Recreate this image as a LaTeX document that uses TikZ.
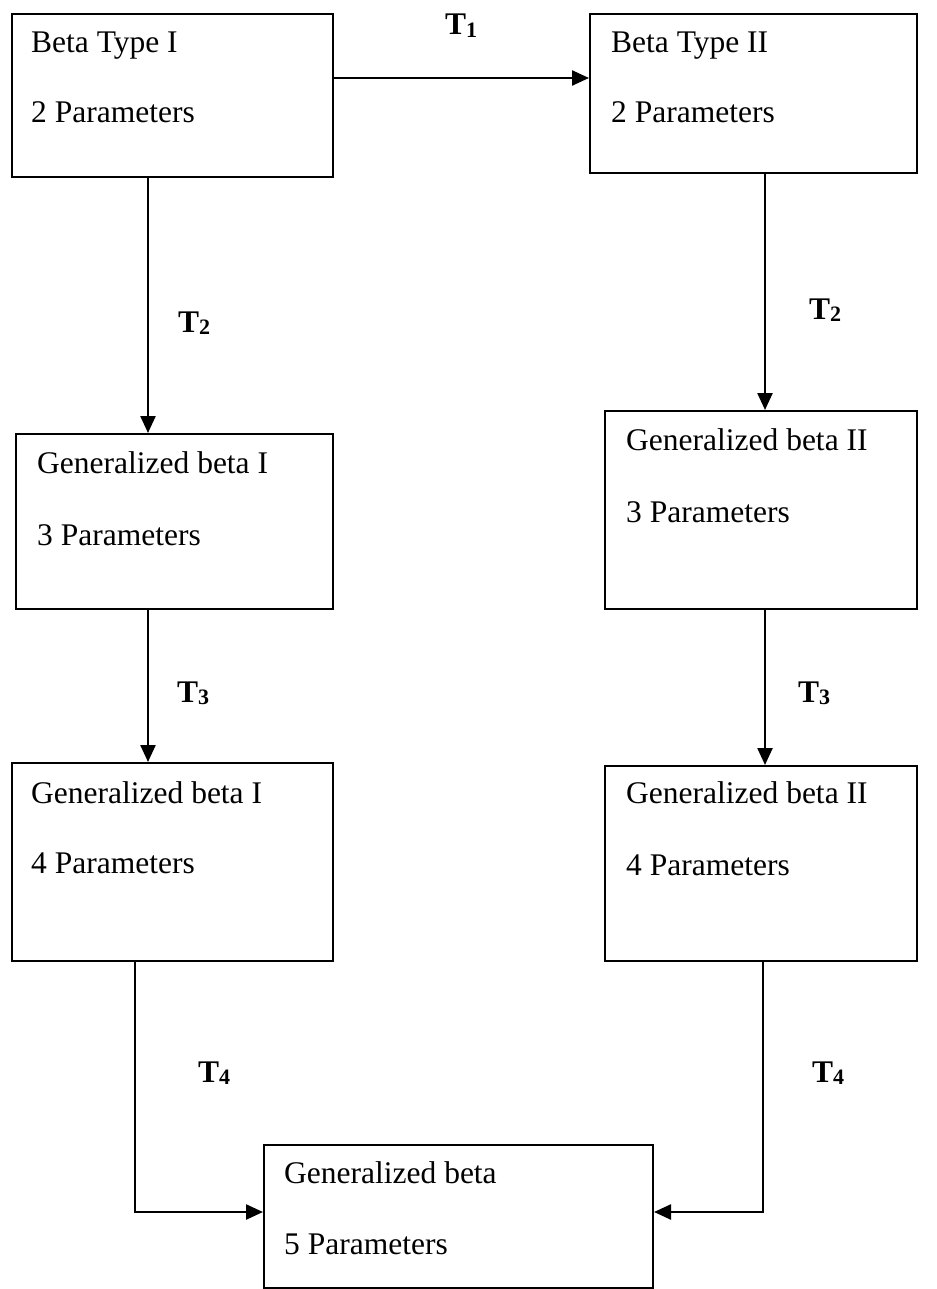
\documentclass[tikz,border=0pt]{standalone}
\usepackage{fontspec}
\setmainfont{Liberation Serif}
\usetikzlibrary{arrows.meta}

\tikzset{
  box/.style={draw, line width=2pt, rectangle, anchor=north west, inner sep=0pt},
  txt/.style={anchor=base west, inner sep=0pt, font=\fontsize{31.5}{36}\selectfont},
  lbl/.style={anchor=base west, inner sep=0pt, font=\fontsize{31.5}{36}\selectfont\bfseries},
  arr/.style={line width=2.4pt, -{Triangle[length=17pt,width=15pt]}},
}
\newcommand{\tlabel}[1]{T\raisebox{-2.5pt}{\fontsize{22}{22}\selectfont\bfseries #1}}

\begin{document}
\begin{tikzpicture}[x=1pt,y=-1pt]
  \useasboundingbox (0,0) rectangle (936,1289);

  % boxes
  \node[box, minimum width=321pt, minimum height=163pt] (b1) at (11,13) {};
  \node[box, minimum width=327pt, minimum height=159pt] (b2) at (589,13) {};
  \node[box, minimum width=317pt, minimum height=175pt] (b3) at (15,433) {};
  \node[box, minimum width=312pt, minimum height=198pt] (b4) at (604,410) {};
  \node[box, minimum width=321pt, minimum height=198pt] (b5) at (11,762) {};
  \node[box, minimum width=312pt, minimum height=195pt] (b6) at (604,765) {};
  \node[box, minimum width=389pt, minimum height=143pt] (b7) at (263,1144) {};

  % box texts
  \node[txt] (b1a) at (31,53) {Beta Type I};
  \node[txt] (b1b) at (31,123) {2 Parameters};
  \node[txt] (b2a) at (611,53) {Beta Type II};
  \node[txt] (b2b) at (611,123) {2 Parameters};
  \node[txt] (b3a) at (37,473) {Generalized beta I};
  \node[txt] (b3b) at (37,545) {3 Parameters};
  \node[txt] (b4a) at (626,450) {Generalized beta II};
  \node[txt] (b4b) at (626,522) {3 Parameters};
  \node[txt] (b5a) at (31,803) {Generalized beta I};
  \node[txt] (b5b) at (31,873) {4 Parameters};
  \node[txt] (b6a) at (626,803) {Generalized beta II};
  \node[txt] (b6b) at (626,875) {4 Parameters};
  \node[txt] (b7a) at (284,1183) {Generalized beta};
  \node[txt] (b7b) at (284,1254) {5 Parameters};

  % guide coordinates for the connectors
  \coordinate (yT1) at (0,78);
  \coordinate (xL) at (148,0);
  \coordinate (xR) at (765,0);
  \coordinate (cL) at (135,1212);
  \coordinate (cR) at (763,1212);

  % connectors
  \draw[arr] (b1.east |- yT1) -- (b2.west |- yT1);
  \draw[arr] (b1.south -| xL) -- (b3.north -| xL);
  \draw[arr] (b2.south -| xR) -- (b4.north -| xR);
  \draw[arr] (b3.south -| xL) -- (b5.north -| xL);
  \draw[arr] (b4.south -| xR) -- (b6.north -| xR);
  \draw[arr] (b5.south -| cL) -- (cL) -- (b7.west |- cL);
  \draw[arr] (b6.south -| cR) -- (cR) -- (b7.east |- cR);

  % transformation labels
  \node[lbl] (t1) at (445,35) {\tlabel{1}};
  \node[lbl] (t2l) at (178,332) {\tlabel{2}};
  \node[lbl] (t2r) at (809,319) {\tlabel{2}};
  \node[lbl] (t3l) at (177,702) {\tlabel{3}};
  \node[lbl] (t3r) at (798,702) {\tlabel{3}};
  \node[lbl] (t4l) at (198,1082) {\tlabel{4}};
  \node[lbl] (t4r) at (812,1082) {\tlabel{4}};
\end{tikzpicture}
\end{document}
